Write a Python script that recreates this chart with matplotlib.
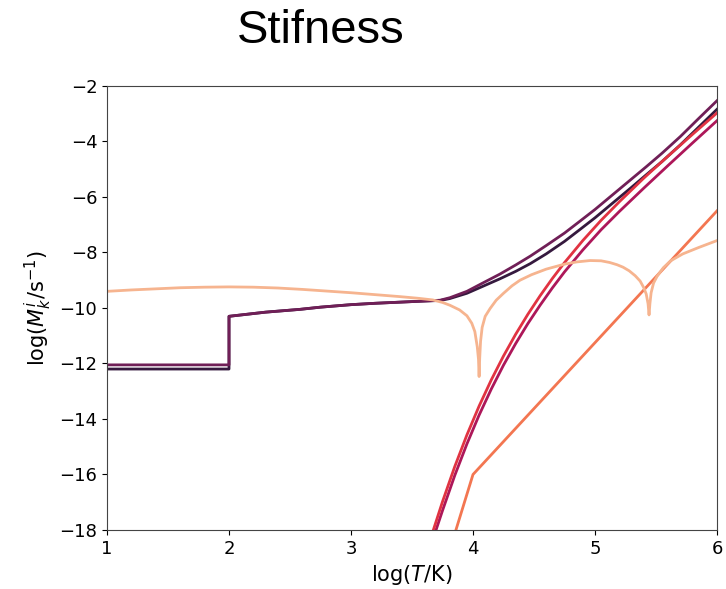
import matplotlib
matplotlib.use("Agg")
import matplotlib.pyplot as plt
import numpy as np

# ---- data ----
colors = ['#35193e', '#701f57', '#ad1759', '#e13342', '#f37651', '#f6b48f']

dark_x = [1.0, 2.0, 2.0, 2.1, 2.3, 2.58, 2.75, 3.0, 3.2, 3.4, 3.6, 3.73, 3.81, 3.95, 4.08, 4.22, 4.35,
          4.47, 4.6, 4.75, 4.88, 5.0, 5.15, 5.3, 5.42, 5.55, 5.7, 5.85, 6.0]
dark_y = [-12.2, -12.2, -10.3, -10.25, -10.15, -10.05, -9.97, -9.88, -9.83, -9.79, -9.75, -9.73, -9.66,
          -9.47, -9.22, -8.95, -8.68, -8.4, -8.05, -7.6, -7.16, -6.75, -6.2, -5.65, -5.2, -4.72, -4.12,
          -3.48, -2.84]

purple_x = [1.0, 2.0, 2.0, 2.1, 2.3, 2.58, 2.75, 3.0, 3.2, 3.4, 3.6, 3.73, 3.81, 3.95, 4.08, 4.22, 4.35,
            4.47, 4.6, 4.75, 4.88, 5.0, 5.15, 5.3, 5.42, 5.55, 5.7, 5.85, 6.0]
purple_y = [-12.05, -12.05, -10.3, -10.25, -10.15, -10.05, -9.97, -9.88, -9.83, -9.79, -9.75, -9.72,
            -9.63, -9.4, -9.1, -8.78, -8.45, -8.13, -7.75, -7.3, -6.86, -6.45, -5.9, -5.35, -4.91,
            -4.42, -3.82, -3.17, -2.53]

magenta_x = [3.697, 3.75, 3.85, 3.95, 4.05, 4.15, 4.25, 4.35, 4.45, 4.55, 4.65, 4.75, 4.9, 5.05,
             5.2, 5.4, 5.6, 5.8, 6.0]
magenta_y = [-18.0, -17.3, -16.04, -14.9, -13.86, -12.92, -12.06, -11.28, -10.56, -9.9, -9.28, -8.7,
             -7.91, -7.18, -6.52, -5.68, -4.86, -4.05, -3.25]

red_x = [3.675, 3.75, 3.85, 3.95, 4.05, 4.15, 4.25, 4.35, 4.45, 4.55, 4.65, 4.75, 4.9, 5.05, 5.2,
         5.4, 5.6, 5.8, 6.0]
red_y = [-18.0, -16.98, -15.72, -14.575, -13.535, -12.59, -11.73, -10.945, -10.225, -9.56, -8.94,
         -8.365, -7.57, -6.84, -6.17, -5.32, -4.52, -3.74, -2.97]

orange_x = [3.86, 4.0, 6.0]
orange_y = [-18.0, -16.0, -6.5]

peach_x = [1.0, 1.2, 1.4, 1.6, 1.8, 2.0, 2.2, 2.4, 2.6, 2.8, 3.0, 3.2, 3.4, 3.55, 3.67, 3.75, 3.81,
           3.89, 3.95, 3.99, 4.015, 4.035, 4.045, 4.05, 4.055, 4.062, 4.075, 4.1, 4.14, 4.19, 4.25,
           4.32, 4.385, 4.48, 4.6, 4.75, 4.85, 4.96, 5.05, 5.12, 5.18, 5.23, 5.28, 5.33, 5.37, 5.40,
           5.42, 5.435, 5.443, 5.45, 5.46, 5.48, 5.51, 5.56, 5.62, 5.72, 5.85, 6.0]
peach_y = [-9.4, -9.35, -9.31, -9.27, -9.25, -9.24, -9.25, -9.28, -9.33, -9.39, -9.45, -9.52, -9.59,
           -9.65, -9.71, -9.8, -9.9, -10.07, -10.28, -10.55, -10.85, -11.4, -11.85, -12.47, -11.8,
           -11.2, -10.7, -10.3, -10.02, -9.72, -9.47, -9.2, -9.0, -8.8, -8.6, -8.42, -8.34, -8.29,
           -8.3, -8.36, -8.44, -8.53, -8.66, -8.84, -9.03, -9.27, -9.5, -9.85, -10.25, -9.85, -9.45,
           -9.1, -8.85, -8.55, -8.3, -8.05, -7.82, -7.57]

# ---- figure ----
fig = plt.figure(figsize=(7.26, 5.89), dpi=100)
ax = fig.add_axes([0.1474, 0.1002, 0.8402, 0.7538])

lw = 2.0
ax.plot(dark_x, dark_y, color=colors[0], lw=lw)
ax.plot(purple_x, purple_y, color=colors[1], lw=lw)
ax.plot(magenta_x, magenta_y, color=colors[2], lw=lw)
ax.plot(red_x, red_y, color=colors[3], lw=lw)
ax.plot(orange_x, orange_y, color=colors[4], lw=lw)
ax.plot(peach_x, peach_y, color=colors[5], lw=lw)

ax.set_xlim(1, 6)
ax.set_ylim(-18, -2)
ax.set_xticks([1, 2, 3, 4, 5, 6])
ax.set_yticks(np.arange(-18, -1, 2))
ax.tick_params(labelsize=13)
for s in ax.spines.values():
    s.set_color('#444444')

ax.set_xlabel(r'log($T$/K)', fontsize=15)
ax.set_ylabel(r'log($M_k^i$/s$^{-1}$)', fontsize=15)

fig.text(0.442, 0.947, 'Stifness', fontsize=34, family='Liberation Sans',
         ha='center', va='center')

fig.savefig('out.png', dpi=100)
